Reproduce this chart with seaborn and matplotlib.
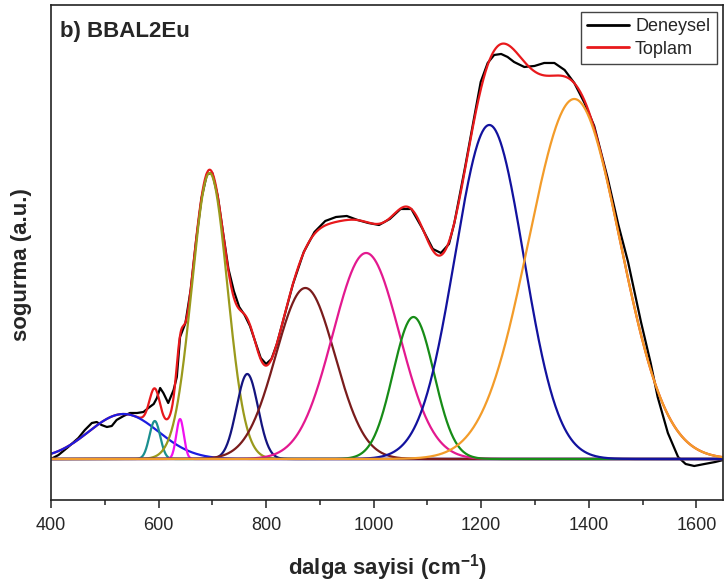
import numpy as np
import pandas as pd
import matplotlib
matplotlib.use("Agg")
import matplotlib.pyplot as plt
from matplotlib.ticker import MultipleLocator
from matplotlib.lines import Line2D
import seaborn as sns

# ---- data ----
# Gaussian components fitted to the spectrum: centre (cm-1), height (a.u.), sigma (cm-1)
comp_centers = [535, 593, 640, 695, 765, 873, 986, 1074, 1215, 1373]
comp_heights = [45, 38, 40, 286, 85, 171, 206, 142, 334, 360]
comp_sigmas = [65, 10, 7, 33, 20, 55, 62, 38, 64, 85]
comp_colors = ["#1c1ce0", "#1a8f8f", "#f010f0", "#9a9a1c", "#14147f",
               "#7a1c1c", "#e3198f", "#178c17", "#12129e", "#f39c2a"]

# experimental spectrum (Deneysel)
deneysel_x = [400, 414, 432, 451, 463, 476, 485, 494, 504, 513, 522, 535, 547, 560,
              572, 581, 591, 597, 603, 609, 618, 628, 634, 640, 650, 660, 670, 680,
              690, 700, 710, 720, 730, 740, 750, 760, 770, 780, 790, 800, 810, 820,
              830, 850, 870, 890, 910, 930, 950, 970, 990, 1010, 1030, 1050, 1070,
              1090, 1110, 1125, 1140, 1150, 1170, 1187, 1199, 1212, 1224, 1237, 1249,
              1261, 1280, 1299, 1317, 1336, 1355, 1373, 1392, 1410, 1435, 1455, 1473,
              1497, 1515, 1528, 1547, 1566, 1580, 1596, 1615, 1635, 1650]
deneysel_y = [0, 4, 12, 21, 29, 36, 37, 34, 32, 33, 39, 43, 46, 46,
              47, 51, 55, 61, 71, 66, 56, 69, 82, 122, 136, 170, 219, 261,
              285, 286, 263, 226, 190, 168, 152, 144, 133, 117, 101, 95, 100, 115,
              135, 175, 207, 227, 238, 242, 243, 239, 236, 234, 240, 250, 250,
              231, 210, 206, 215, 236, 292, 342, 377, 396, 404, 405, 402,
              397, 392, 393, 396, 396, 389, 376, 356, 333, 281, 234, 197,
              137, 96, 62, 26, 2, -5, -7, -5, -3, -1]

x_ticks = [400, 600, 800, 1000, 1200, 1400, 1600]

# ---- style ----
sns.set_style("ticks")
plt.rcParams["font.family"] = ["Liberation Sans", "DejaVu Sans"]
plt.rcParams["mathtext.fontset"] = "custom"
plt.rcParams["mathtext.rm"] = "Liberation Sans"
plt.rcParams["mathtext.bf"] = "Liberation Sans:bold"

fig = plt.figure(figsize=(7.24, 5.85), dpi=100)
ax = fig.add_axes([0.0704, 0.1453, 0.9286, 0.8462])

# fine wavenumber grid for the fitted components
wn = np.arange(400, 1651, 1.0)
comps = []
for c, h, s in zip(comp_centers, comp_heights, comp_sigmas):
    comps.append(h * np.exp(-(wn - c) ** 2 / (2 * s ** 2)))
total = np.sum(comps, axis=0)

df_exp = pd.DataFrame({"x": deneysel_x, "y": deneysel_y})
df_tot = pd.DataFrame({"x": wn, "y": total})

lw = 1.6
sns.lineplot(data=df_exp, x="x", y="y", color="black", lw=lw, ax=ax,
             legend=False, estimator=None, sort=False)
sns.lineplot(data=df_tot, x="x", y="y", color="#e8191c", lw=lw, ax=ax,
             legend=False, estimator=None)
for yv, col in zip(comps, comp_colors):
    sns.lineplot(x=wn, y=yv, color=col, lw=lw, ax=ax, legend=False, estimator=None)

ax.set_xlim(400, 1650)
ax.set_ylim(-41, 454)
ax.set_xticks(x_ticks)
ax.xaxis.set_minor_locator(MultipleLocator(100))
ax.set_yticks([])
ax.tick_params(axis="x", which="major", direction="out", length=6, width=1.1,
               labelsize=13, pad=6, top=False, color="#222222")
ax.tick_params(axis="x", which="minor", direction="out", length=3.5, width=1.1,
               top=False, color="#222222")
for sp in ax.spines.values():
    sp.set_visible(True)
    sp.set_linewidth(1.2)
    sp.set_color("#222222")

ax.set_xlabel("dalga sayisi (cm$^{\\mathbf{-1}}$)", fontsize=16, fontweight="bold",
              labelpad=13)
ax.set_ylabel("sogurma (a.u.)", fontsize=16, fontweight="bold")
ax.yaxis.set_label_coords(-0.028, 0.475)

ax.text(0.0134, 0.968, "b) BBAL2Eu", transform=ax.transAxes, fontsize=16,
        fontweight="bold", ha="left", va="top")

handles = [Line2D([], [], color="black", lw=2), Line2D([], [], color="#e8191c", lw=2)]
leg = ax.legend(handles, ["Deneysel", "Toplam"], loc="upper right",
                bbox_to_anchor=(0.99, 0.986), borderaxespad=0, fontsize=13,
                handlelength=2.3, handletextpad=0.35, labelspacing=0.3,
                borderpad=0.35, fancybox=False, framealpha=1)
leg.get_frame().set_edgecolor("#444444")
leg.get_frame().set_linewidth(1.0)

fig.savefig("out.png", dpi=100)
